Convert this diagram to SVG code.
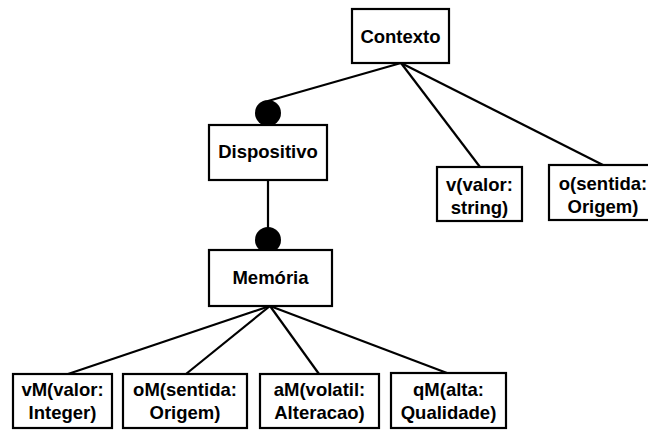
<svg xmlns="http://www.w3.org/2000/svg" width="648" height="430" viewBox="0 0 648 430">
  <style>
    .box { fill: #ffffff; stroke: #000000; stroke-width: 2.2; }
    .lbl { font-family: "Liberation Sans", Arial, sans-serif; font-size: 18.5px; font-weight: bold; fill: #000000; text-anchor: middle; }
    .edge { stroke: #000000; stroke-width: 2.2; fill: none; }
    .dot { fill: #000000; }
  </style>
  <rect width="648" height="430" fill="#ffffff"/>

  <!-- connectors -->
  <g id="connectors">
    <line class="edge" x1="401" y1="63" x2="268" y2="101"/>
    <line class="edge" x1="401" y1="63" x2="480" y2="167"/>
    <line class="edge" x1="401" y1="63" x2="603" y2="165"/>
    <line class="edge" x1="268" y1="180" x2="268" y2="228"/>
    <line class="edge" x1="270" y1="306" x2="68" y2="374"/>
    <line class="edge" x1="270" y1="306" x2="186" y2="374"/>
    <line class="edge" x1="270" y1="306" x2="319" y2="374"/>
    <line class="edge" x1="270" y1="306" x2="447" y2="373"/>
    <circle class="dot" cx="268" cy="113" r="13"/>
    <circle class="dot" cx="268" cy="240" r="13"/>
  </g>

  <g id="contexto">
    <rect class="box" x="352" y="9" width="97" height="54"/>
    <text class="lbl" x="400.5" y="43">Contexto</text>
  </g>

  <g id="dispositivo">
    <rect class="box" x="209" y="125" width="118" height="55"/>
    <text class="lbl" x="268" y="158">Dispositivo</text>
  </g>

  <g id="memoria">
    <rect class="box" x="209" y="250" width="123" height="56"/>
    <text class="lbl" x="270.5" y="284">Memória</text>
  </g>

  <g id="v-valor">
    <rect class="box" x="437" y="167" width="85" height="54"/>
    <text class="lbl" x="479.5" y="191">v(valor:</text>
    <text class="lbl" x="479.5" y="214">string)</text>
  </g>

  <g id="o-sentida">
    <rect class="box" x="549" y="165" width="108" height="55"/>
    <text class="lbl" x="603" y="190">o(sentida:</text>
    <text class="lbl" x="603" y="213">Origem)</text>
  </g>

  <g id="vM">
    <rect class="box" x="13" y="374" width="99" height="54"/>
    <text class="lbl" x="62.5" y="396">vM(valor:</text>
    <text class="lbl" x="62.5" y="419">Integer)</text>
  </g>

  <g id="oM">
    <rect class="box" x="123" y="374" width="124" height="54"/>
    <text class="lbl" x="185" y="396">oM(sentida:</text>
    <text class="lbl" x="185" y="419">Origem)</text>
  </g>

  <g id="aM">
    <rect class="box" x="260" y="374" width="119" height="54"/>
    <text class="lbl" x="319.5" y="396">aM(volatil:</text>
    <text class="lbl" x="319.5" y="419">Alteracao)</text>
  </g>

  <g id="qM">
    <rect class="box" x="391" y="373" width="115" height="55"/>
    <text class="lbl" x="448.5" y="396">qM(alta:</text>
    <text class="lbl" x="448.5" y="419">Qualidade)</text>
  </g>
</svg>
